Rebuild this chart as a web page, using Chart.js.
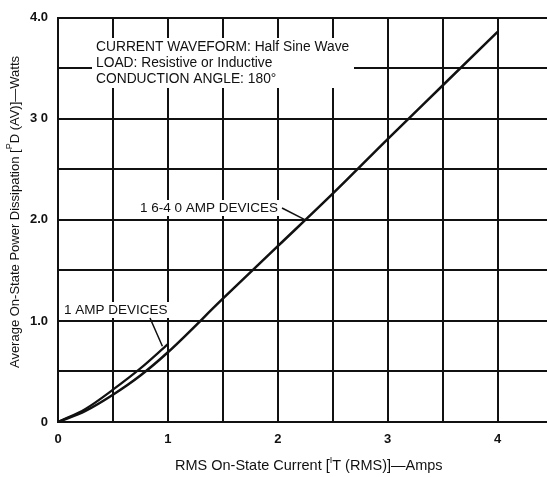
<!DOCTYPE html>
<html>
<head>
<meta charset="utf-8">
<script src="https://cdn.jsdelivr.net/npm/chart.js@4/dist/chart.umd.min.js"></script>
<style>
  html, body { margin: 0; padding: 0; background: #fff; }
  #wrap { width: 547px; height: 477px; position: relative; }
</style>
</head>
<body>
<div id="wrap"><canvas id="chart"></canvas></div>
<script>
// curve readings (RMS current in amps -> average power in watts)
const bigCurrent = [0, 0.25, 0.5, 0.75, 1, 1.5, 2, 2.5, 3, 3.5, 4];
const bigPower = [0, 0.11, 0.27, 0.46, 0.69, 1.22, 1.74, 2.26, 2.8, 3.33, 3.86];
const smallCurrent = [0, 0.25, 0.5, 0.75, 1];
const smallPower = [0, 0.13, 0.32, 0.53, 0.77];

const xTickLabels = { 0: '0', 1: '1', 2: '2', 3: '3', 4: '4' };
const yTickLabels = { 0: '0', 1: '1.0', 2: '2.0', 3: '3 0', 4: '4.0' };

const noteLines = ['CURRENT WAVEFORM: Half Sine Wave', 'LOAD: Resistive or Inductive', 'CONDUCTION ANGLE: 180°'];

function toPoints(xs, ys) {
  return xs.map((x, i) => ({ x: x, y: ys[i] }));
}

const FONT = '"Liberation Sans", Arial, sans-serif';

// draws the notes, curve labels and axis titles
const textPlugin = {
  id: 'textPlugin',
  afterDraw(chart) {
    const ctx = chart.ctx;
    const xs = chart.scales.x, ys = chart.scales.y;
    ctx.save();
    ctx.fillStyle = '#111';
    ctx.strokeStyle = '#111';
    ctx.textBaseline = 'middle';

    // conditions box
    ctx.font = '13.8px ' + FONT;
    const nx = 96, ny = [47, 63, 79];
    ctx.fillStyle = '#fff';
    ctx.fillRect(nx - 4, 38, 262, 50);
    ctx.fillStyle = '#111';
    noteLines.forEach((t, i) => ctx.fillText(t, nx, ny[i]));

    // curve labels
    ctx.font = '13.5px ' + FONT;
    ctx.fillStyle = '#fff';
    ctx.fillRect(138, 200, 143, 16);
    ctx.fillRect(62, 302, 110, 16);
    ctx.fillStyle = '#111';
    ctx.fillText('1 6-4 0 AMP DEVICES', 140, 208);
    ctx.fillText('1 AMP DEVICES', 64, 310);
    ctx.lineWidth = 1.5;
    ctx.beginPath();
    ctx.moveTo(282, 208);
    ctx.lineTo(xs.getPixelForValue(2.25), ys.getPixelForValue(2.0));
    ctx.moveTo(150, 318);
    ctx.lineTo(xs.getPixelForValue(0.95), ys.getPixelForValue(0.75));
    ctx.stroke();

    // x axis title with raised I
    ctx.font = '14.5px ' + FONT;
    let x = 175, y = 466;
    const parts1 = ['RMS On-State Current [', 'I', 'T (RMS)]—Amps'];
    ctx.fillText(parts1[0], x, y); x += ctx.measureText(parts1[0]).width;
    ctx.font = '9px ' + FONT;
    ctx.fillText(parts1[1], x, y - 5); x += ctx.measureText(parts1[1]).width;
    ctx.font = '14.5px ' + FONT;
    ctx.fillText(parts1[2], x, y);

    // y axis title, rotated, with raised P
    ctx.translate(15, 0);
    ctx.rotate(-Math.PI / 2);
    const parts2 = ['Average On-State Power Dissipation [', 'P', 'D (AV)]—Watts'];
    ctx.font = '13px ' + FONT;
    let w = ctx.measureText(parts2[0]).width + ctx.measureText(parts2[2]).width;
    ctx.font = '9px ' + FONT;
    w += ctx.measureText(parts2[1]).width;
    let yx = -212 - w / 2;
    ctx.font = '13px ' + FONT;
    ctx.fillText(parts2[0], yx, 0); yx += ctx.measureText(parts2[0]).width;
    ctx.font = '9px ' + FONT;
    ctx.fillText(parts2[1], yx, -5); yx += ctx.measureText(parts2[1]).width;
    ctx.font = '13px ' + FONT;
    ctx.fillText(parts2[2], yx, 0);
    ctx.restore();
  }
};

new Chart(document.getElementById('chart'), {
  type: 'scatter',
  data: {
    datasets: [
      {
        label: '1.6-40 Amp Devices',
        data: toPoints(bigCurrent, bigPower),
        showLine: true,
        borderColor: '#111',
        borderWidth: 2.5,
        pointRadius: 0,
        cubicInterpolationMode: 'monotone'
      },
      {
        label: '1 Amp Devices',
        data: toPoints(smallCurrent, smallPower),
        showLine: true,
        borderColor: '#111',
        borderWidth: 2.2,
        pointRadius: 0,
        cubicInterpolationMode: 'monotone'
      }
    ]
  },
  options: {
    responsive: true,
    maintainAspectRatio: false,
    animation: false,
    layout: { padding: { top: 14, right: 0, left: 0, bottom: 0 } },
    plugins: { legend: { display: false }, tooltip: { enabled: false } },
    scales: {
      x: {
        type: 'linear',
        min: 0,
        max: 4.45,
        afterFit(s) { s.height = 55; },
        afterBuildTicks(s) { s.ticks = [0, 0.5, 1, 1.5, 2, 2.5, 3, 3.5, 4].map(v => ({ value: v })); },
        ticks: {
          autoSkip: false,
          maxRotation: 0,
          padding: 10,
          color: '#111',
          font: { family: FONT, size: 13, weight: 'bold' },
          callback: v => xTickLabels[v] !== undefined ? xTickLabels[v] : ''
        },
        grid: { color: '#111', lineWidth: 2, drawTicks: false },
        border: { color: '#111', width: 2 }
      },
      y: {
        min: 0,
        max: 4,
        afterFit(s) { s.width = 58; },
        ticks: {
          stepSize: 0.5,
          padding: 10,
          color: '#111',
          font: { family: FONT, size: 13, weight: 'bold' },
          callback: v => yTickLabels[v] !== undefined ? yTickLabels[v] : ''
        },
        grid: { color: '#111', lineWidth: 2, drawTicks: false },
        border: { color: '#111', width: 2 }
      }
    }
  },
  plugins: [textPlugin]
});
</script>
</body>
</html>
